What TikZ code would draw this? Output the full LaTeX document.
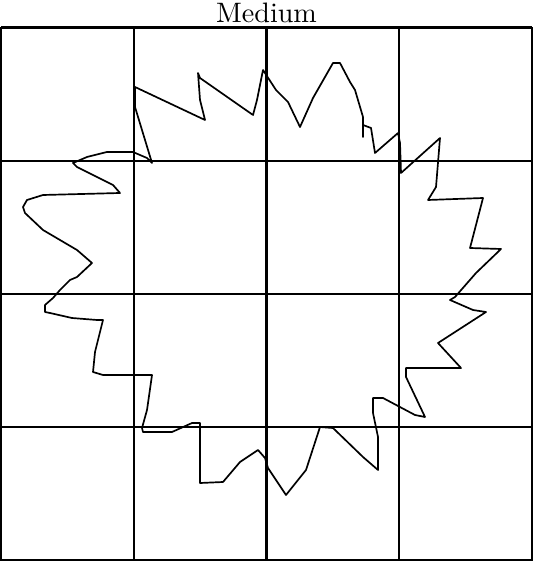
\documentclass[tikz,border=0pt]{standalone}
\usepackage{tikz}
\begin{document}
\begin{tikzpicture}[x=0.0125cm, y=-0.0125cm,
  gridline/.style={line width=0.75pt},
  outline/.style={line width=0.6pt, line join=round},
  every node/.style={font=\normalsize}]

  \useasboundingbox (0,0) rectangle (533,561);

  % Title
  \node[anchor=base, inner sep=0pt] (title) at (266.5,23) {Medium};

  % Grid
  \foreach \i in {0,...,4} {
    \draw[gridline] ({1+132.75*\i},27.5) -- ({1+132.75*\i},560.5);
    \draw[gridline] (1,{27.5+133.25*\i}) -- (532,{27.5+133.25*\i});
  }

  % Outline of the blob
  \draw[outline] (152,163) -- (135,107) -- (135,87) -- (205,120) -- (200,100)
    -- (198,73) -- (200,78) -- (253,115) -- (257,100) -- (263,70) -- (276,90)
    -- (288,102) -- (300,127) -- (313,98) -- (333,63) -- (340,63) -- (350,82)
    -- (355,90) -- (363,117) -- (363,137) -- (363,125) -- (371,128)
    -- (375,153) -- (398,133) -- (400,143) -- (401,173) -- (440,138)
    -- (436,187) -- (428,200) -- (483,198) -- (470,248) -- (501,249)
    -- (476,273) -- (455,297) -- (450,300) -- (473,310) -- (486,312)
    -- (438,343) -- (461,368) -- (406,368) -- (406,377) -- (425,417)
    -- (415,415) -- (383,398) -- (373,398) -- (373,413) -- (378,437)
    -- (378,470) -- (363,457) -- (333,428) -- (320,427) -- (306,470)
    -- (286,495) -- (268,468) -- (265,458) -- (258,450) -- (240,462)
    -- (223,482) -- (200,483) -- (200,423) -- (192,423) -- (172,432)
    -- (143,432) -- (142,428) -- (147,410) -- (152,375) -- (103,375)
    -- (93,372) -- (95,352) -- (103,320) -- (97,320) -- (72,318) -- (50,313)
    -- (45,312) -- (45,305) -- (53,298) -- (60,290) -- (70,280) -- (77,277)
    -- (92,263) -- (77,250) -- (43,230) -- (25,213) -- (23,207) -- (27,200)
    -- (43,195) -- (120,193) -- (113,185) -- (77,167) -- (73,163) -- (87,157)
    -- (107,152) -- (133,152) -- (147,158) -- cycle;
\end{tikzpicture}
\end{document}
